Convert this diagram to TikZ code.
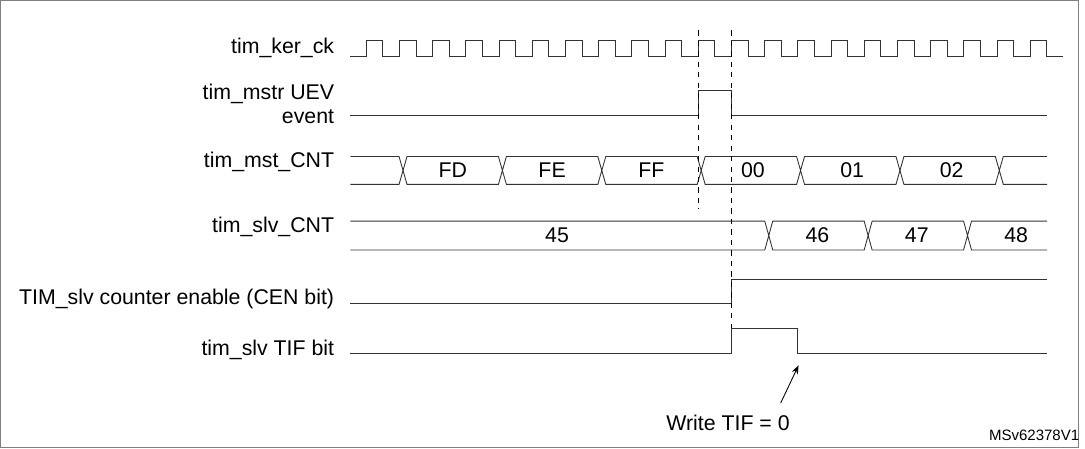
\documentclass[tikz,border=0pt]{standalone}
\usepackage{fontspec}
\setmainfont{Liberation Sans}
\usetikzlibrary{arrows.meta}
\begin{document}
\begin{tikzpicture}[x=0.02cm,y=-0.02cm,font=\fontsize{12.2}{13.5}\selectfont,
    wave/.style ={draw, line width=0.5pt, black!80},
    signame/.style ={anchor=east, align=right, inner sep=0pt},
    busval/.style ={inner sep=0pt}]
   \draw[gray, line width=0.6pt] (0,0) rectangle (1085,450);
   % signal names
   \node[signame] (ck)   at (336,48)  {tim\_ker\_ck};
   \node[signame] (uev)  at (336,104) {tim\_mstr UEV\\event};
   \node[signame] (mst)  at (336,162) {tim\_mst\_CNT};
   \node[signame] (slv)  at (336,228) {tim\_slv\_CNT};
   \node[signame] (cen)  at (336,300) {TIM\_slv counter enable (CEN bit)};
   \node[signame] (tif)  at (336,352) {tim\_slv TIF bit};

   % clock
   \draw[wave] (352,56) -- (368,56)
     \foreach \k in {0,...,20} { -- ({368+33.4*\k},40) -- ({384.7+33.4*\k},40) -- ({384.7+33.4*\k},56)
       -- ({401.4+33.4*\k},56) };

   % update event
   \draw[wave] (352,116) -- (702,116) -- (702,90) -- (735,90) -- (735,116) -- (1053,116);

   \begin{scope}
   \clip (340,140) rectangle (1053,260);
   % master counter
   \draw[wave] (352,157) -- (401,157) \foreach \x in {405,505,605,705,805,905,1005}
     { -- (\x,171) -- (\x+4,157) -- (\x+96,157) };
   \draw[wave] (352,185) -- (401,185) \foreach \x in {405,505,605,705,805,905,1005}
     { -- (\x,171) -- (\x+4,185) -- (\x+96,185) };
   % slave counter
   \draw[wave] (352,222) -- (769,222) \foreach \x in {773,873,973}
     { -- (\x,236.5) -- (\x+4,222) -- (\x+96,222) };
   \draw[wave] (352,251) -- (769,251) \foreach \x in {773,873,973}
     { -- (\x,236.5) -- (\x+4,251) -- (\x+96,251) };
   \end{scope}
   \node[busval] (vfd) at (455,171) {FD};
   \node[busval] (vfe) at (555,171) {FE};
   \node[busval] (vff) at (655,171) {FF};
   \node[busval] (v00) at (757,171) {00};
   \node[busval] (v01) at (857,171) {01};
   \node[busval] (v02) at (957,171) {02};
   \node[busval] (v45) at (560,236.5) {45};
   \node[busval] (v46) at (822,236.5) {46};
   \node[busval] (v47) at (922,236.5) {47};
   \node[busval] (v48) at (1022,236.5) {48};

   % enable and flag
   \draw[wave] (352,305) -- (735,305) -- (735,281) -- (1053,281);
   \draw[wave] (352,355) -- (735,355) -- (735,330) -- (802,330) -- (802,355) -- (1053,355);

   % markers
   \draw[dashed, line width=0.4pt] (702,30) -- (702,210);
   \draw[dashed, line width=0.4pt] (735,30) -- (735,330);

   \node (wr) at (732,425) {Write TIF = 0};
   \coordinate (wrtip) at (803,367);
   \draw[-{Stealth[length=5pt]}, line width=0.5pt] (785,405) -- (wrtip);
   \node[font=\fontsize{8.6}{10}\selectfont] (ref) at (1040,437) {MSv62378V1};
 \end{tikzpicture}
\end{document}
